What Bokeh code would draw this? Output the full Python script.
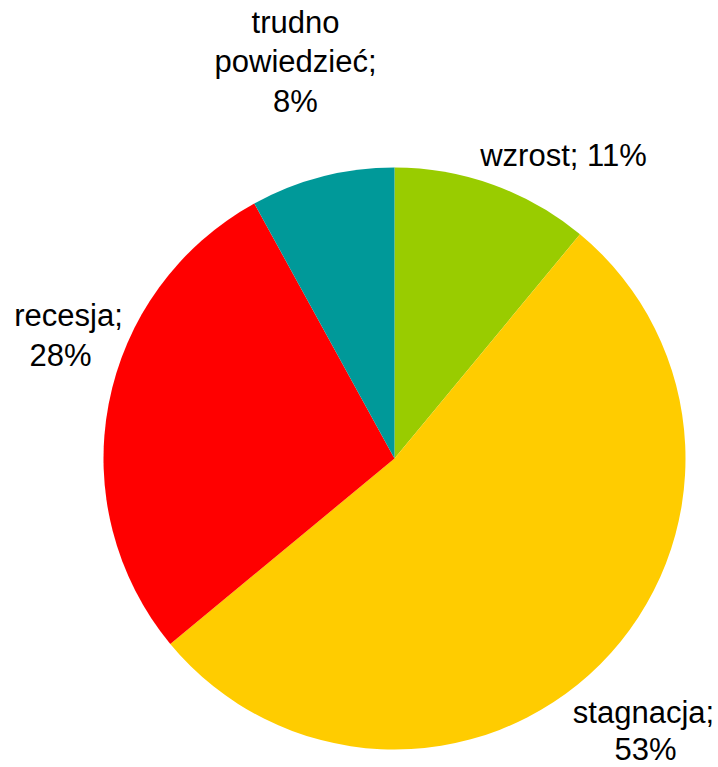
import math
from bokeh.plotting import figure
from bokeh.models import Range1d, ColumnDataSource
from bokeh.core.properties import value
from bokeh.embed import file_html
from bokeh.resources import INLINE

# ---- data ----
categories = ["wzrost", "stagnacja", "recesja", "trudno powiedzieć"]
values = [11, 53, 28, 8]
colors = ["#99CC00", "#FFCC00", "#FF0000", "#009999"]

# ---- layout (page pixel coordinates) ----
W, H = 718, 767
cx, cy, r = 394, 458, 291
# label line anchors: (center x, baseline y) for each line, per slice
label_anchors = [
    [(563, 155)],                       # wzrost (single line)
    [(643, 712), (645, 749)],           # stagnacja
    [(68, 315), (60, 355)],             # recesja
    [(295, 22), (295, 61), (295, 101)], # trudno powiedzieć
]

def Y(y_img):
    return H - y_img

p = figure(width=W, height=H, output_backend="svg", toolbar_location=None,
           x_range=Range1d(0, W), y_range=Range1d(0, H),
           min_border=0)
p.axis.visible = False
p.grid.visible = False
p.outline_line_color = None
p.background_fill_color = "white"
p.border_fill_color = "white"

total = sum(values)
starts, ends = [], []
a = math.pi / 2
for v in values:
    starts.append(a)
    a -= v / total * 2 * math.pi
    ends.append(a)

src = ColumnDataSource(dict(x=[cx] * len(values), y=[Y(cy)] * len(values),
                            start=starts, end=ends, color=colors))
p.wedge(x="x", y="y", radius=r, start_angle="end", end_angle="start",
        fill_color="color", line_color=None, source=src)

tx, ty, tt = [], [], []
for cat, v, anchors in zip(categories, values, label_anchors):
    if len(anchors) == 1:
        lines = [f"{cat}; {v}%"]
    else:
        words = (cat + ";").split(" ")
        lines = words + [f"{v}%"]
    for line, (ax, ay) in zip(lines, anchors):
        tx.append(ax)
        ty.append(Y(ay))
        tt.append(line)

p.text(x=tx, y=ty, text=tt, text_font=value("Liberation Sans"),
       text_font_size="31px", text_color="#000000",
       text_align="center", text_baseline="alphabetic")

open("out.html", "w").write(file_html(p, INLINE))
